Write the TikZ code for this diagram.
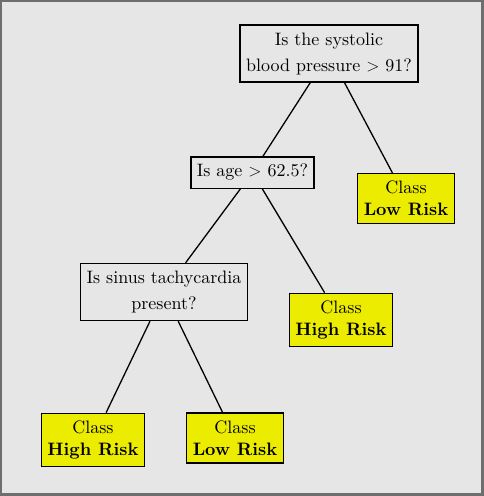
\documentclass[tikz,border=0pt]{standalone}
\usepackage{fontspec}
\setmainfont{lmroman10-regular.otf}[BoldFont=lmroman10-bold.otf]
\usepackage{xcolor}
\usepackage{tikz}
\usetikzlibrary{positioning}
\definecolor{bggray}{RGB}{230,230,230}
\definecolor{framegray}{RGB}{110,110,110}
\definecolor{leafyellow}{RGB}{236,236,0}
\begin{document}
\begin{tikzpicture}[
    x=1pt, y=-1pt,
    question/.style={
        draw=black, line width=1.4pt, rectangle,
        align=center, inner xsep=6pt, inner ysep=7.5pt,
        font=\fontsize{18}{26}\selectfont},
    leaf/.style={
        question, fill=leafyellow,
        font=\fontsize{18}{22}\selectfont},
    branch/.style={draw=black, line width=1.3pt}]
\useasboundingbox (0,0) rectangle (484,496);
% frame and background
\fill[framegray] (0,0) rectangle (484,496);
\fill[bggray] (2,2) rectangle (481,493);

% decision nodes
\node[question] (sbp)   at (329,53.5)  {Is the systolic\\blood pressure $>$ 91?};
\node[question] (age)   at (252.5,172.5) {Is age $>$ 62.5?};
\node[question] (sinus) at (164,292)   {Is sinus tachycardia\\present?};

% leaves
\node[leaf] (lowA)  at (406,198.5) {Class\\\textbf{Low Risk}};
\node[leaf] (highA) at (341,320)   {Class\\\textbf{High Risk}};
\node[leaf] (highB) at (93,440)    {Class\\\textbf{High Risk}};
\node[leaf] (lowB)  at (235,438)   {Class\\\textbf{Low Risk}};

% branches
\path[branch] (sbp)   -- (age);
\path[branch] (sbp)   -- (lowA);
\path[branch] (age)   -- (sinus);
\path[branch] (age)   -- (highA);
\path[branch] (sinus) -- (highB);
\path[branch] (sinus) -- (lowB);

\end{tikzpicture}
\end{document}
